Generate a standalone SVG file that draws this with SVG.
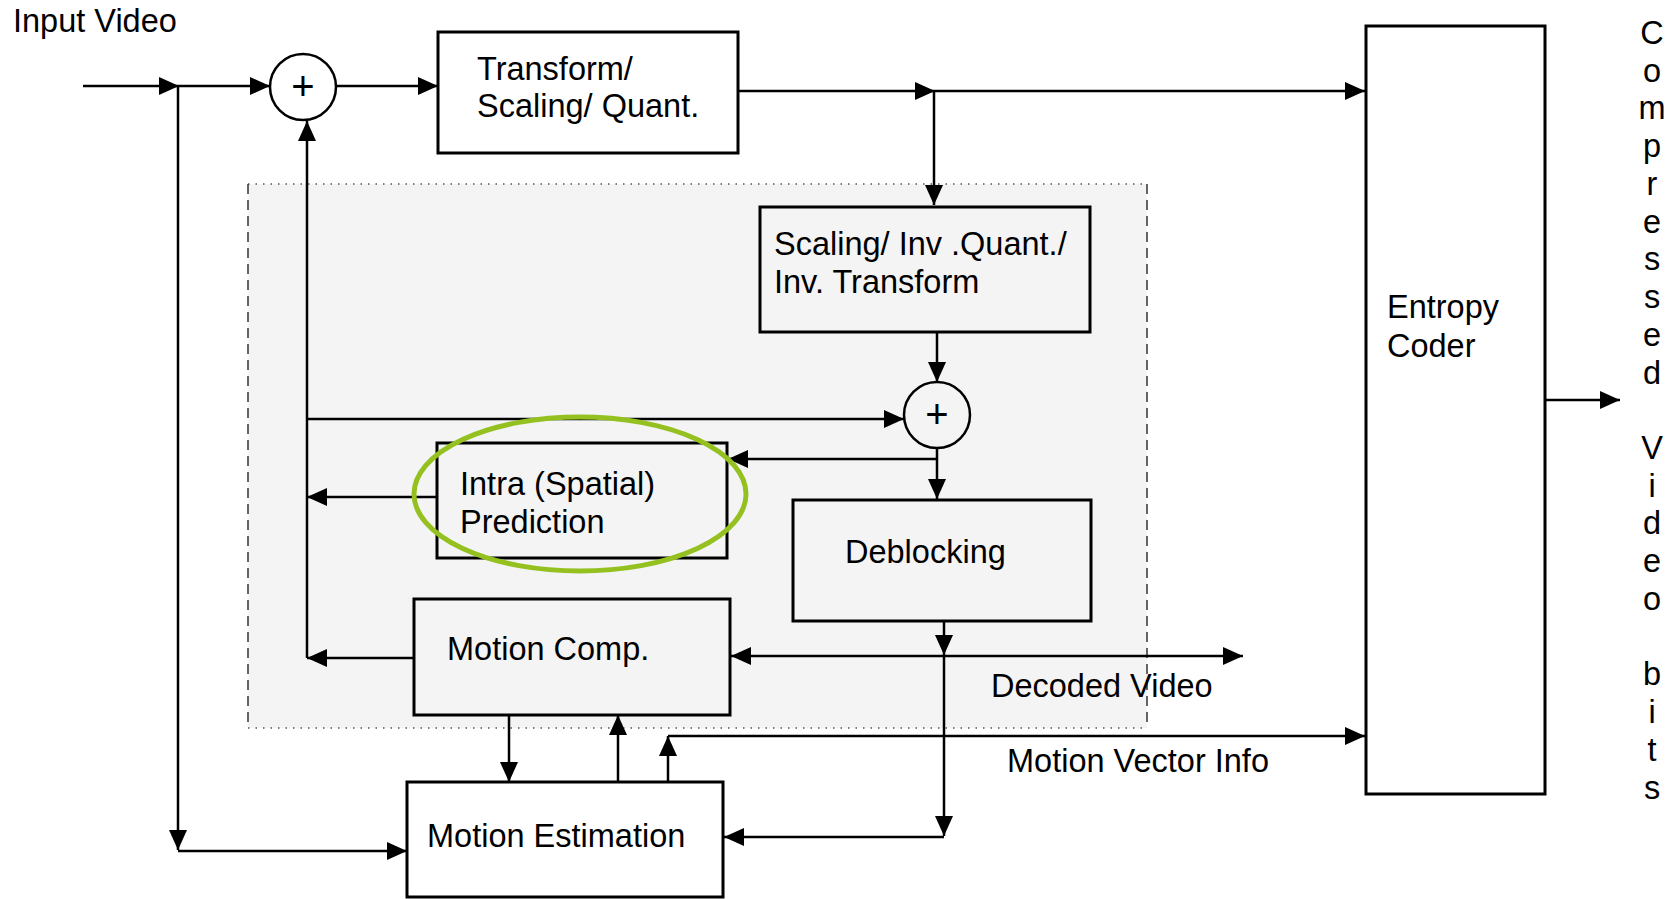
<svg xmlns="http://www.w3.org/2000/svg" width="1674" height="899" viewBox="0 0 1674 899">
<style>
.box{stroke:#000;stroke-width:3;fill:#fff}
.gbox{stroke:#000;stroke-width:3;fill:#f4f4f4}
.lbl{font-family:"Liberation Sans",Arial,sans-serif;font-size:32.5px;fill:#000}
.ln{stroke:#000;stroke-width:2.5;fill:none}
.plus{font-family:"Liberation Sans",Arial,sans-serif;font-size:40px;text-anchor:middle;fill:#000}
</style>
<defs>
<marker id="ah" viewBox="0 0 20 18" refX="20" refY="9" markerWidth="20" markerHeight="18" markerUnits="userSpaceOnUse" orient="auto">
<path d="M0,0 L20,9 L0,18 Z" fill="#000"/>
</marker>
</defs>
<rect width="1674" height="899" fill="#fff"/>
<g id="region">
<rect x="248" y="184" width="899" height="544" fill="#f4f4f4"/>
<line x1="248" y1="184" x2="1147" y2="184" stroke="#555" stroke-width="1.5" stroke-dasharray="1.5,6"/>
<line x1="248" y1="728" x2="1147" y2="728" stroke="#555" stroke-width="1.5" stroke-dasharray="1.5,6"/>
<line x1="248" y1="184" x2="248" y2="728" stroke="#333" stroke-width="1.5" stroke-dasharray="10,6"/>
<line x1="1147" y1="184" x2="1147" y2="728" stroke="#333" stroke-width="1.5" stroke-dasharray="10,6"/>
</g>
<g id="connectors">
<path class="ln" d="M83,86 H179" marker-end="url(#ah)"/>
<path class="ln" d="M179,86 H270" marker-end="url(#ah)"/>
<path class="ln" d="M336,86 H438" marker-end="url(#ah)"/>
<path class="ln" d="M178,86 V850" marker-end="url(#ah)"/>
<path class="ln" d="M178,851 H407" marker-end="url(#ah)"/>
<path class="ln" d="M738,91 H935" marker-end="url(#ah)"/>
<path class="ln" d="M935,91 H1365" marker-end="url(#ah)"/>
<path class="ln" d="M934,91 V205" marker-end="url(#ah)"/>
<path class="ln" d="M937,332 V382" marker-end="url(#ah)"/>
<path class="ln" d="M307,658 V121" marker-end="url(#ah)"/>
<path class="ln" d="M307,419 H904" marker-end="url(#ah)"/>
<path class="ln" d="M937,448 V499" marker-end="url(#ah)"/>
<path class="ln" d="M937,459 H728" marker-end="url(#ah)"/>
<path class="ln" d="M437,497 H307" marker-end="url(#ah)"/>
<path class="ln" d="M414,658 H307" marker-end="url(#ah)"/>
<path class="ln" d="M944,621 V655" marker-end="url(#ah)"/>
<path class="ln" d="M944,656 H731" marker-end="url(#ah)"/>
<path class="ln" d="M944,656 H1243" marker-end="url(#ah)"/>
<path class="ln" d="M944,656 V836" marker-end="url(#ah)"/>
<path class="ln" d="M944,837 H724" marker-end="url(#ah)"/>
<path class="ln" d="M509,715 V782" marker-end="url(#ah)"/>
<path class="ln" d="M618,782 V715" marker-end="url(#ah)"/>
<path class="ln" d="M668,782 V736" marker-end="url(#ah)"/>
<path class="ln" d="M668,736 H1365" marker-end="url(#ah)"/>
<path class="ln" d="M1546,400 H1620" marker-end="url(#ah)"/>
</g>
<g id="input-label"><text class="lbl" x="13" y="32" font-size="30.5">Input Video</text></g>
<g id="sum1">
<circle cx="303" cy="87" r="33" fill="#fff" stroke="#000" stroke-width="2.5"/>
<text class="plus" x="303" y="100">+</text>
</g>
<g id="transform">
<rect class="box" x="438" y="32" width="300" height="121"/>
<text class="lbl" x="477" y="80">Transform/</text>
<text class="lbl" x="477" y="117">Scaling/ Quant.</text>
</g>
<g id="inverse">
<rect class="gbox" x="760" y="207" width="330" height="125"/>
<text class="lbl" x="774" y="255">Scaling/ Inv .Quant./</text>
<text class="lbl" x="774" y="293">Inv. Transform</text>
</g>
<g id="sum2">
<circle cx="937" cy="415" r="33" fill="#f4f4f4" stroke="#000" stroke-width="2.5"/>
<text class="plus" x="937" y="428">+</text>
</g>
<g id="intra">
<rect class="gbox" x="437" y="443" width="290" height="115"/>
<text class="lbl" x="460" y="495">Intra (Spatial)</text>
<text class="lbl" x="460" y="533">Prediction</text>
</g>
<g id="deblocking">
<rect class="gbox" x="793" y="500" width="298" height="121"/>
<text class="lbl" x="845" y="563">Deblocking</text>
</g>
<g id="motion-comp">
<rect class="gbox" x="414" y="599" width="316" height="116"/>
<text class="lbl" x="447" y="660">Motion Comp.</text>
</g>
<g id="motion-est">
<rect class="box" x="407" y="782" width="316" height="115"/>
<text class="lbl" x="427" y="847">Motion Estimation</text>
</g>
<g id="entropy">
<rect class="box" x="1366" y="26" width="179" height="768"/>
<text class="lbl" x="1387" y="318">Entropy</text>
<text class="lbl" x="1387" y="357">Coder</text>
</g>
<g id="edge-labels">
<text class="lbl" x="991" y="697">Decoded Video</text>
<text class="lbl" x="1007" y="772">Motion Vector Info</text>
</g>
<g id="output-label">
<text class="lbl" font-size="29" text-anchor="middle">
<tspan x="1652" y="44">C</tspan><tspan x="1652" y="81.5">o</tspan><tspan x="1652" y="119.3">m</tspan><tspan x="1652" y="157">p</tspan><tspan x="1652" y="194.8">r</tspan><tspan x="1652" y="232.5">e</tspan><tspan x="1652" y="270.2">s</tspan><tspan x="1652" y="308">s</tspan><tspan x="1652" y="345.7">e</tspan><tspan x="1652" y="383.5">d</tspan><tspan x="1652" y="459">V</tspan><tspan x="1652" y="496.7">i</tspan><tspan x="1652" y="534.4">d</tspan><tspan x="1652" y="572.2">e</tspan><tspan x="1652" y="609.9">o</tspan><tspan x="1652" y="685.4">b</tspan><tspan x="1652" y="723.1">i</tspan><tspan x="1652" y="760.9">t</tspan><tspan x="1652" y="798.6">s</tspan>
</text>
</g>
<g id="highlight">
<ellipse cx="580" cy="494" rx="166" ry="77" fill="none" stroke="#94c11f" stroke-width="5"/>
</g>
</svg>
